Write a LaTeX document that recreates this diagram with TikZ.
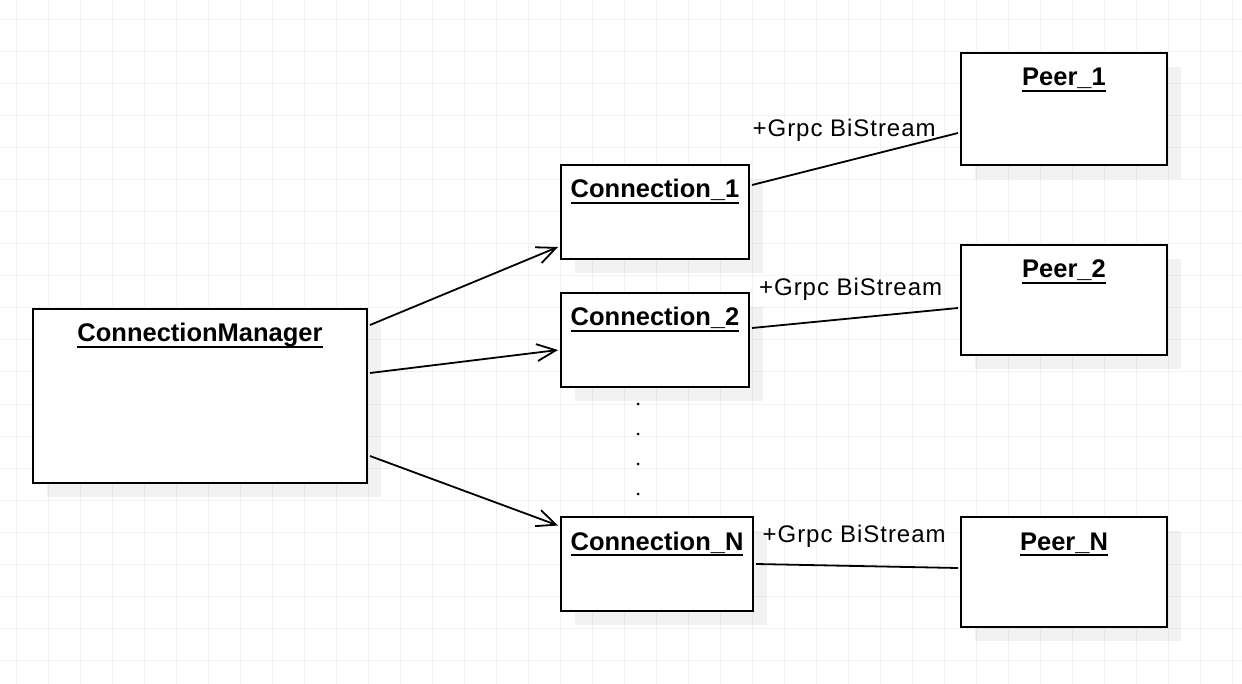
\documentclass[tikz,border=0pt]{standalone}
\usepackage{fontspec}
\setmainfont{Liberation Sans}
\usetikzlibrary{arrows.meta,calc,shadows}
\newcommand\ulbox[1]{\setbox0\hbox{#1}\rlap{\rule[-6.2pt]{\wd0}{2.1pt}}\box0}
\definecolor{gridc}{HTML}{F2F2F2}
\begin{document}
\begin{tikzpicture}[x=1pt,y=-1pt,
  umlbox/.style={draw, line width=2pt, fill=white, anchor=north west, inner sep=0pt,
    drop shadow={shadow xshift=14pt, shadow yshift=-14pt, fill=black, opacity=0.05}},
  titletext/.style={anchor=base, inner sep=0pt, font=\fontsize{25.5}{28}\selectfont\bfseries},
  lbl/.style={anchor=base west, inner sep=0pt, font=\fontsize{24}{27}\selectfont\addfontfeature{LetterSpace=4}},
  assoc/.style={line width=1.8pt},
  navig/.style={line width=1.8pt, -{Straight Barb[length=19pt,width=17pt,line width=1.8pt]}}]
\useasboundingbox (0,0) rectangle (1242,684);
\fill[white] (0,0) rectangle (1242,684);
\foreach \gx in {16,48,...,1240} \draw[gridc, line width=1pt] (\gx,0) -- (\gx,684);
\foreach \gy in {20,52,...,684} \draw[gridc, line width=1pt] (0,\gy) -- (1242,\gy);

% boxes
\node[umlbox, minimum width=334pt, minimum height=174pt] (cm) at (32,308) {};
\node[umlbox, minimum width=188pt, minimum height=94pt] (c1) at (560,164) {};
\node[umlbox, minimum width=188pt, minimum height=94pt] (c2) at (560,292) {};
\node[umlbox, minimum width=192pt, minimum height=94pt] (cn) at (560,516) {};
\node[umlbox, minimum width=206pt, minimum height=112pt] (p1) at (960,52) {};
\node[umlbox, minimum width=206pt, minimum height=110pt] (p2) at (960,244) {};
\node[umlbox, minimum width=206pt, minimum height=110pt] (pn) at (960,516) {};

% titles
\node[titletext] (cmt) at ($(cm.north)+(0,34)$) {\ulbox{ConnectionManager}};
\node[titletext] (c1t) at ($(c1.north)+(0,34)$) {\ulbox{Connection\_1}};
\node[titletext] (c2t) at ($(c2.north)+(0,34)$) {\ulbox{Connection\_2}};
\node[titletext] (cnt) at ($(cn.north)+(0,34)$) {\ulbox{Connection\_N}};
\node[titletext] (p1t) at ($(p1.north)+(0,34)$) {\ulbox{Peer\_1}};
\node[titletext] (p2t) at ($(p2.north)+(0,34)$) {\ulbox{Peer\_2}};
\node[titletext] (pnt) at ($(pn.north)+(0,34)$) {\ulbox{Peer\_N}};

% navigable associations
\draw[navig] ($(cm.north east)+(2,17)$) -- ($(c1.north west)+(-2,83)$);
\draw[navig] ($(cm.north east)+(2,65)$) -- ($(c2.north west)+(-2,58)$);
\draw[navig] ($(cm.north east)+(2,148)$) -- ($(cn.north west)+(-2,9.5)$);

% associations to peers
\draw[assoc] ($(c1.north east)+(2,21)$) -- ($(p1.north west)+(-2,81)$);
\draw[assoc] ($(c2.north east)+(2,36)$) -- ($(p2.north west)+(-2,64)$);
\draw[assoc] ($(cn.north east)+(2,48)$) -- ($(pn.north west)+(-2,52)$);

\node[lbl] (l1) at (752.5,137) {+Grpc BiStream};
\node[lbl] (l2) at (759,296) {+Grpc BiStream};
\node[lbl] (ln) at (762.5,542) {+Grpc BiStream};

% ellipsis dots
\foreach \dy in {404,434,464,494} \fill (638,\dy) circle (1.5);
\end{tikzpicture}
\end{document}
